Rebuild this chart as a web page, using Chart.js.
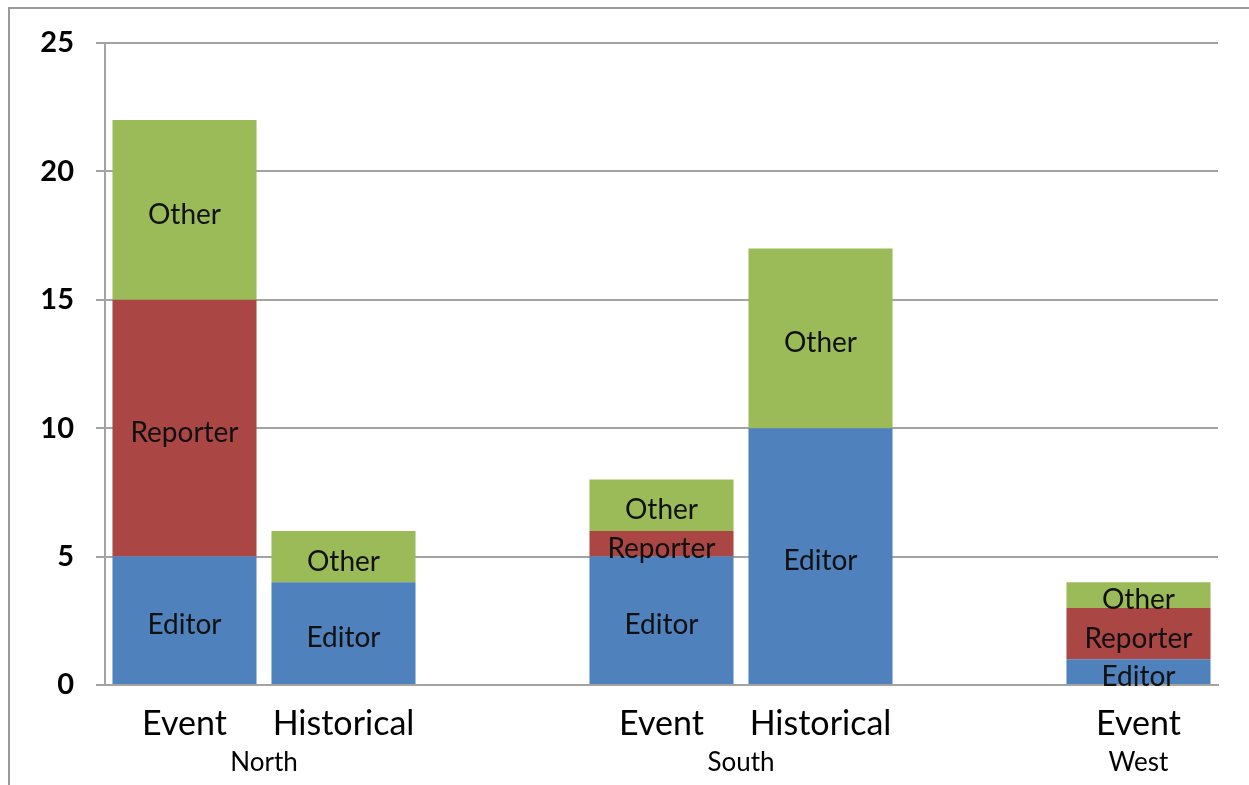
<!DOCTYPE html>
<html>
<head>
<meta charset="utf-8">
<script src="https://cdn.jsdelivr.net/npm/chart.js@4"></script>
<style>
  html, body { margin: 0; padding: 0; background: #fff; }
  #wrap { width: 1249px; height: 785px; }
</style>
</head>
<body>
<div id="wrap"><canvas id="myChart" width="1249" height="785"></canvas></div>
<script>
// categories (empty slots keep the gap between regions)
const categories = ['Event', 'Historical', '', 'Event', 'Historical', '', 'Event'];
const groups = [
  { name: 'North', from: 0, to: 1 },
  { name: 'South', from: 3, to: 4 },
  { name: 'West', from: 6, to: 6 }
];
const editor   = [5, 4, null, 5, 10, null, 1];
const reporter = [10, 0, null, 1, 0, null, 2];
const other    = [7, 2, null, 2, 7, null, 1];
const yTicks = [0, 5, 10, 15, 20, 25];

const FONT = 'Lato, "Open Sans", sans-serif';
const GRID = '#a3a3a3';

// draws series name in the middle of each segment
const segmentLabels = {
  id: 'segmentLabels',
  afterDatasetsDraw(chart) {
    const ctx = chart.ctx;
    ctx.save();
    ctx.fillStyle = '#111';
    ctx.font = '28px ' + FONT;
    ctx.textAlign = 'center';
    ctx.textBaseline = 'middle';
    chart.data.datasets.forEach((ds, i) => {
      const meta = chart.getDatasetMeta(i);
      meta.data.forEach((bar, j) => {
        if (!ds.data[j]) return;
        ctx.fillText(ds.label, bar.x, (bar.y + bar.base) / 2 + 5);
      });
    });
    ctx.restore();
  }
};

// region names under the category labels + outer frame
const groupLabels = {
  id: 'groupLabels',
  afterDraw(chart) {
    const ctx = chart.ctx;
    const x = chart.scales.x;
    ctx.save();
    ctx.fillStyle = '#000';
    ctx.font = '26px ' + FONT;
    ctx.textAlign = 'center';
    ctx.textBaseline = 'middle';
    groups.forEach(g => {
      const cx = (x.getPixelForValue(g.from) + x.getPixelForValue(g.to)) / 2;
      ctx.fillText(g.name, cx, 763);
    });
    ctx.strokeStyle = '#9a9a9a';
    ctx.lineWidth = 2;
    ctx.strokeRect(9, 8, 1300, 800);
    ctx.restore();
  }
};

const config = {
  type: 'bar',
  data: {
    labels: categories,
    datasets: [
      { label: 'Editor', data: editor, backgroundColor: '#4F81BD' },
      { label: 'Reporter', data: reporter, backgroundColor: '#AA4643' },
      { label: 'Other', data: other, backgroundColor: '#9BBB59' }
    ]
  },
  options: {
    responsive: false,
    animation: false,
    layout: { padding: { top: 43, right: 31, left: 0, bottom: 0 } },
    datasets: {
      bar: { categoryPercentage: 1, barPercentage: 0.906, borderWidth: 0 }
    },
    plugins: {
      legend: { display: false },
      tooltip: { enabled: false },
      title: { display: false }
    },
    scales: {
      x: {
        stacked: true,
        grid: { display: false },
        border: { display: true, color: GRID, width: 2 },
        ticks: { color: '#000', font: { family: FONT, size: 34 }, padding: 11, maxRotation: 0 },
        afterFit(s) { s.height = 100; }
      },
      y: {
        stacked: true,
        min: 0,
        max: 25,
        afterBuildTicks(s) { s.ticks = yTicks.map(v => ({ value: v })); },
        grid: { color: GRID, lineWidth: 2, tickLength: 9 },
        border: { display: true, color: GRID, width: 2 },
        ticks: { color: '#000', font: { family: FONT, size: 29, weight: 'bold' }, padding: 22 },
        afterFit(s) { s.width = 105; }
      }
    }
  },
  plugins: [segmentLabels, groupLabels]
};

const ctx = document.getElementById('myChart').getContext('2d');
new Chart(ctx, config);
</script>
</body>
</html>
